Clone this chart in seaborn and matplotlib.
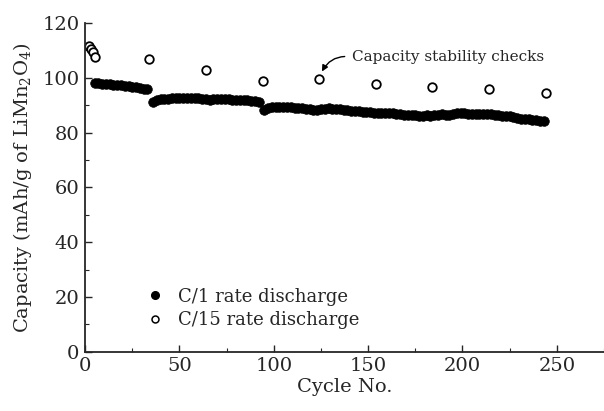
import matplotlib
matplotlib.use("Agg")
import matplotlib.pyplot as plt
import seaborn as sns
import pandas as pd
from matplotlib.lines import Line2D

# C/1 discharge capacity (mAh/g), every 2nd cycle
c1_cycles_a = list(range(5, 34, 2))
c1_cap_a = [98.2, 98.0, 97.9, 97.7, 97.6, 97.5, 97.3, 97.2, 97.0, 96.9,
            96.7, 96.5, 96.3, 96.1, 95.9]

c1_cycles_b = list(range(36, 93, 2))
c1_cap_b = [91.3, 91.8, 92.1, 92.3, 92.4, 92.5, 92.5, 92.6, 92.6, 92.5,
            92.5, 92.6, 92.5, 92.4, 92.2, 92.0, 92.4, 92.3, 92.2, 92.1,
            92.1, 92.0, 92.0, 92.0, 91.9, 91.8, 91.6, 91.4, 91.0]

c1_cycles_c = list(range(95, 244, 2))
c1_cap_c = [88.4, 88.9, 89.2, 89.4, 89.5, 89.4, 89.3, 89.2, 89.1, 89.0,
            88.9, 88.7, 88.5, 88.4, 88.3, 88.5, 88.8, 88.9, 88.8, 88.6,
            88.5, 88.3, 88.2, 88.0, 87.9, 87.8, 87.6, 87.5, 87.4, 87.3,
            87.2, 87.3, 87.3, 87.1, 87.0, 86.9, 86.8, 86.6, 86.5, 86.4,
            86.3, 86.2, 86.2, 86.3, 86.2, 86.4, 86.6, 86.7, 86.6, 86.5,
            86.7, 87.0, 87.3, 87.1, 86.9, 86.8, 86.7, 86.8, 86.9, 86.8,
            86.7, 86.5, 86.3, 86.1, 85.9, 85.9, 85.7, 85.3, 85.0, 84.8,
            84.9, 84.7, 84.5, 84.3, 84.1]

# C/15 capacity stability checks
c15_cycles = [2, 3, 4, 5, 34, 64, 94, 124, 154, 184, 214, 244]
c15_cap = [111.5, 110.5, 109.5, 107.5, 106.8, 102.8, 98.7, 99.4, 97.6,
           96.5, 96.1, 94.3]

c1 = pd.DataFrame({
    "cycle": c1_cycles_a + c1_cycles_b + c1_cycles_c,
    "capacity": c1_cap_a + c1_cap_b + c1_cap_c,
})
c15 = pd.DataFrame({"cycle": c15_cycles, "capacity": c15_cap})

sns.set_style("ticks")
plt.rcParams["font.family"] = ["DejaVu Serif"]
plt.rcParams["mathtext.fontset"] = "dejavuserif"

fig = plt.figure(figsize=(6.04, 4.11), dpi=100)
ax = fig.add_axes([0.141, 0.144, 0.859, 0.80])

sns.scatterplot(data=c1, x="cycle", y="capacity", ax=ax, color="black",
                s=48, edgecolor="black", linewidth=0.5, legend=False)
sns.scatterplot(data=c15, x="cycle", y="capacity", ax=ax, facecolor="white",
                s=38, edgecolor="black", linewidth=1.3, legend=False)

ax.set_xlim(0, 274)
ax.set_ylim(0, 120)
ax.set_xticks([0, 50, 100, 150, 200, 250])
ax.set_xticks([25, 75, 125, 175, 225, 275], minor=True)
ax.set_yticks([0, 20, 40, 60, 80, 100, 120])
ax.set_yticks([10, 30, 50, 70, 90, 110], minor=True)
ax.tick_params(which="major", direction="in", length=5, width=1,
               labelsize=14, pad=4)
ax.tick_params(which="minor", direction="in", length=3, width=0.8)
sns.despine(ax=ax)
ax.spines["left"].set_linewidth(1.3)
ax.spines["bottom"].set_linewidth(1.3)

ax.set_xlabel("Cycle No.", fontsize=14, labelpad=2)
ax.set_ylabel("Capacity (mAh/g of LiMn$_2$O$_4$)", fontsize=14, labelpad=6)

ax.annotate("Capacity stability checks", xy=(125.5, 102.3), xytext=(141.5, 107.6),
            fontsize=11, ha="left", va="center",
            arrowprops=dict(arrowstyle="-|>", color="black", lw=1,
                            shrinkA=3, shrinkB=0, mutation_scale=9,
                            relpos=(0, 0.5),
                            connectionstyle="arc3,rad=0.35"))

handles = [
    Line2D([], [], marker="o", linestyle="none", markerfacecolor="black",
           markeredgecolor="black", markersize=5.5),
    Line2D([], [], marker="o", linestyle="none", markerfacecolor="white",
           markeredgecolor="black", markersize=5, markeredgewidth=1.1),
]
ax.legend(handles, ["C/1 rate discharge", "C/15 rate discharge"],
          loc="lower left", bbox_to_anchor=(0.085, 0.02), frameon=False,
          fontsize=13, handletextpad=0.8, labelspacing=0.3, handlelength=1)

fig.savefig("out.png", dpi=100)
